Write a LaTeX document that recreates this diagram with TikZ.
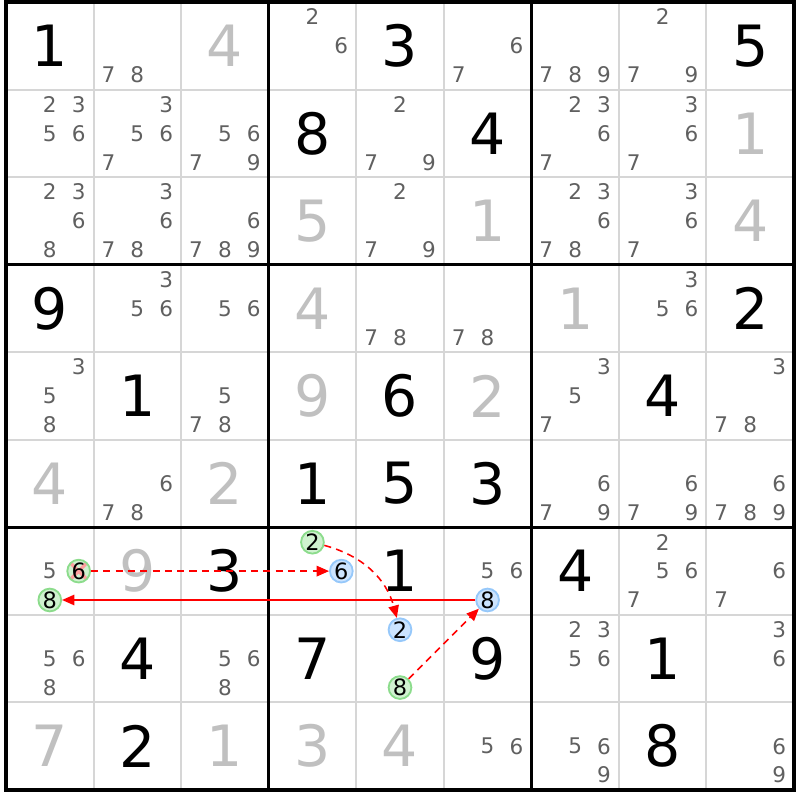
\documentclass[tikz,border=0pt]{standalone}
\usepackage{fontspec}
\setmainfont{DejaVu Sans}
\usetikzlibrary{arrows.meta}

\definecolor{candgray}{RGB}{96,96,96}
\definecolor{solvedgray}{RGB}{192,192,192}
\definecolor{gridgray}{RGB}{214,214,214}
\definecolor{ongreen}{RGB}{208,242,208}
\definecolor{ongreenline}{RGB}{140,220,140}
\definecolor{offblue}{RGB}{204,228,255}
\definecolor{offblueline}{RGB}{150,200,250}
\definecolor{elimred}{RGB}{255,160,160}

\tikzset{
  cand/.style={inner sep=0pt, text=candgray, font=\fontsize{7}{8}\selectfont},
  givendigit/.style={inner sep=0pt, text=black, font=\fontsize{18.5}{20}\selectfont},
  solveddigit/.style={givendigit, text=solvedgray},
  oncand/.style={circle, draw=ongreenline, fill=ongreen, line width=0.6pt, inner sep=0pt,
    minimum size=0.26cm, font=\fontsize{7.3}{8}\selectfont},
  offcand/.style={oncand, draw=offblueline, fill=offblue},
  elimcand/.style={oncand, path picture={
    \draw[elimred, line width=1.1pt]
      (path picture bounding box.north west) -- (path picture bounding box.south east)
      (path picture bounding box.north east) -- (path picture bounding box.south west);}},
  weaklink/.style={red, line width=0.5pt, dash pattern=on 2.3pt off 1.7pt,
    -{Triangle[length=4pt,width=3.4pt]}},
  stronglink/.style={red, line width=0.5pt, -{Triangle[length=4pt,width=3.4pt]}},
}

\newcommand{\givencell}[3]{\node[givendigit] (n#1#2) at (#2-0.5,9.5-#1) {#3};}
\newcommand{\solvedcell}[3]{\node[solveddigit] (n#1#2) at (#2-0.5,9.5-#1) {#3};}
\newcommand{\candcell}[3]{%
  \foreach \d in {#3}{%
    \pgfmathsetmacro{\cx}{#2-0.83+0.33*mod(\d-1,3)}%
    \pgfmathsetmacro{\cy}{9.83-#1-0.33*int((\d-1)/3)}%
    \node[cand] (c#1#2-\d) at (\cx,\cy) {\d};}}

\begin{document}
\begin{tikzpicture}
  \useasboundingbox (-0.0685,-0.1142) rectangle (9.0685,9.0228);

  \foreach \i in {1,2,4,5,7,8} {
    \draw[gridgray, line width=0.65pt] (\i,0) -- (\i,9);
    \draw[gridgray, line width=0.65pt] (0,\i) -- (9,\i);
  }
  \foreach \i in {3,6} {
    \draw[line width=1pt] (\i,0) -- (\i,9);
    \draw[line width=1pt] (0,\i) -- (9,\i);
  }
  \draw[line width=1pt] (0,0) rectangle (9,9);

  % row 1
  \givencell{1}{1}{1} \candcell{1}{2}{7,8} \solvedcell{1}{3}{4}
  \candcell{1}{4}{2,6} \givencell{1}{5}{3} \candcell{1}{6}{6,7}
  \candcell{1}{7}{7,8,9} \candcell{1}{8}{2,7,9} \givencell{1}{9}{5}
  % row 2
  \candcell{2}{1}{2,3,5,6} \candcell{2}{2}{3,5,6,7} \candcell{2}{3}{5,6,7,9}
  \givencell{2}{4}{8} \candcell{2}{5}{2,7,9} \givencell{2}{6}{4}
  \candcell{2}{7}{2,3,6,7} \candcell{2}{8}{3,6,7} \solvedcell{2}{9}{1}
  % row 3
  \candcell{3}{1}{2,3,6,8} \candcell{3}{2}{3,6,7,8} \candcell{3}{3}{6,7,8,9}
  \solvedcell{3}{4}{5} \candcell{3}{5}{2,7,9} \solvedcell{3}{6}{1}
  \candcell{3}{7}{2,3,6,7,8} \candcell{3}{8}{3,6,7} \solvedcell{3}{9}{4}
  % row 4
  \givencell{4}{1}{9} \candcell{4}{2}{3,5,6} \candcell{4}{3}{5,6}
  \solvedcell{4}{4}{4} \candcell{4}{5}{7,8} \candcell{4}{6}{7,8}
  \solvedcell{4}{7}{1} \candcell{4}{8}{3,5,6} \givencell{4}{9}{2}
  % row 5
  \candcell{5}{1}{3,5,8} \givencell{5}{2}{1} \candcell{5}{3}{5,7,8}
  \solvedcell{5}{4}{9} \givencell{5}{5}{6} \solvedcell{5}{6}{2}
  \candcell{5}{7}{3,5,7} \givencell{5}{8}{4} \candcell{5}{9}{3,7,8}
  % row 6
  \solvedcell{6}{1}{4} \candcell{6}{2}{6,7,8} \solvedcell{6}{3}{2}
  \givencell{6}{4}{1} \givencell{6}{5}{5} \givencell{6}{6}{3}
  \candcell{6}{7}{6,7,9} \candcell{6}{8}{6,7,9} \candcell{6}{9}{6,7,8,9}
  % row 7
  \candcell{7}{1}{5} \solvedcell{7}{2}{9} \givencell{7}{3}{3}
  \givencell{7}{5}{1} \candcell{7}{6}{5,6}
  \givencell{7}{7}{4} \candcell{7}{8}{2,5,6,7} \candcell{7}{9}{6,7}
  % row 8
  \candcell{8}{1}{5,6,8} \givencell{8}{2}{4} \candcell{8}{3}{5,6,8}
  \givencell{8}{4}{7} \givencell{8}{6}{9}
  \candcell{8}{7}{2,3,5,6} \givencell{8}{8}{1} \candcell{8}{9}{3,6}
  % row 9
  \solvedcell{9}{1}{7} \givencell{9}{2}{2} \solvedcell{9}{3}{1}
  \solvedcell{9}{4}{3} \solvedcell{9}{5}{4} \candcell{9}{6}{5,6}
  \candcell{9}{7}{5,6,9} \givencell{9}{8}{8} \candcell{9}{9}{6,9}

  % chain
  \node[elimcand] (r7c1n6) at (0.83,2.50) {6};
  \node[oncand] (r7c1n8) at (0.50,2.17) {8};
  \node[oncand] (r7c4n2) at (3.50,2.83) {2};
  \node[offcand] (r7c4n6) at (3.83,2.50) {6};
  \node[offcand] (r8c5n2) at (4.50,1.83) {2};
  \node[oncand] (r8c5n8) at (4.50,1.17) {8};
  \node[offcand] (r7c6n8) at (5.50,2.17) {8};

  \draw[weaklink] (r7c1n6) -- (r7c4n6);
  \draw[weaklink] (r7c4n2) to[bend left=30] (r8c5n2);
  \draw[weaklink] (r8c5n8) -- (r7c6n8);
  \draw[stronglink] (r7c6n8) -- (r7c1n8);
\end{tikzpicture}
\end{document}
